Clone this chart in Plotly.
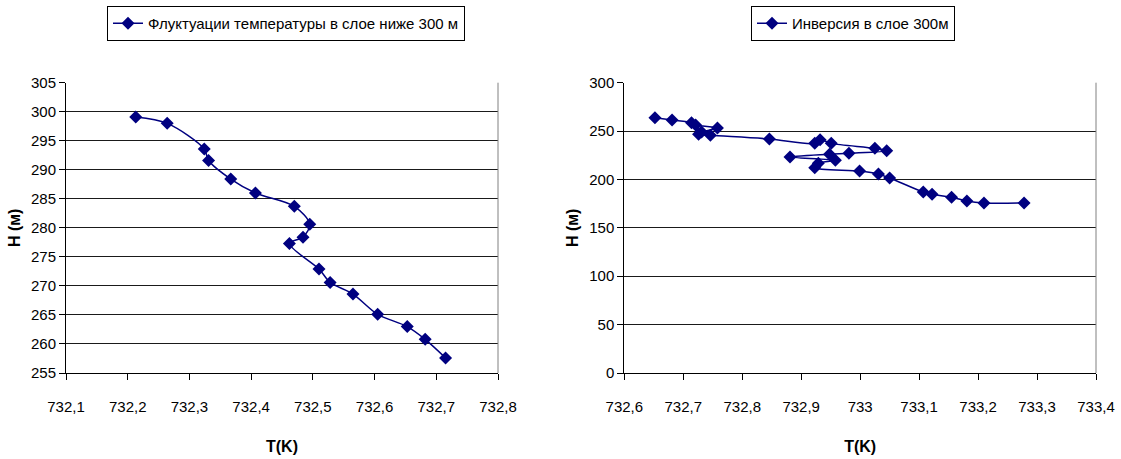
import plotly.graph_objects as go
from plotly.subplots import make_subplots

# Temperature fluctuations in the layer below 300 m
t_fluct = [732.213, 732.264, 732.324, 732.331, 732.367, 732.407, 732.470, 732.495,
           732.484, 732.462, 732.510, 732.528, 732.565, 732.605, 732.653, 732.682, 732.715]
h_fluct = [299.1, 298.0, 293.6, 291.6, 288.4, 286.0, 283.7, 280.6,
           278.4, 277.3, 272.9, 270.6, 268.6, 265.1, 263.0, 260.8, 257.6]

# Inversion in the 300 m layer
t_inv = [732.652, 732.681, 732.714, 732.721, 732.758, 732.731, 732.726, 732.746,
         732.846, 732.923, 732.932, 732.951, 733.025, 733.045, 732.981, 732.948,
         732.881, 732.958, 732.929, 732.923, 732.999, 733.031, 733.050, 733.107,
         733.122, 733.155, 733.181, 733.210, 733.278]
h_inv = [263.8, 261.4, 258.6, 256.3, 253.2, 249.0, 246.6, 245.6,
         241.8, 237.3, 241.1, 237.3, 232.2, 229.7, 227.0, 226.0,
         223.2, 219.8, 216.7, 212.2, 208.7, 205.6, 201.5, 187.0,
         184.7, 181.6, 177.7, 175.7, 175.7]

name_left = "Флуктуации температуры в слое ниже 300 м"
name_right = "Инверсия в слое 300м"

NAVY = "#000080"
FONT = "Liberation Sans Narrow, Arial Narrow, Liberation Sans, Arial, sans-serif"
GRID = "#1a1a1a"

fig = make_subplots(rows=1, cols=2)

fig.add_trace(go.Scatter(
    x=t_fluct, y=h_fluct, name=name_left, mode="lines+markers",
    line=dict(color=NAVY, width=1.5, shape="spline", smoothing=0.9),
    marker=dict(symbol="diamond", size=10, color=NAVY),
    legend="legend"), row=1, col=1)

fig.add_trace(go.Scatter(
    x=t_inv, y=h_inv, name=name_right, mode="lines+markers",
    line=dict(color=NAVY, width=1.5, shape="spline", smoothing=0.9),
    marker=dict(symbol="diamond", size=10, color=NAVY),
    legend="legend2"), row=1, col=2)

y_bottom = (459 - 373) / 459
y_top = (459 - 82.7) / 459

xcommon = dict(dtick=0.1, showgrid=False, showline=True, linecolor="black", linewidth=1,
               ticks="outside", ticklen=6, tickcolor="black", automargin=False,
               tickfont=dict(family=FONT, size=15, color="black"),
               ticklabelstandoff=14, zeroline=False,
               title=dict(text="<b>T(K)</b>", font=dict(family=FONT, size=16, color="black"),
                          standoff=26))
ycommon = dict(showgrid=True, gridcolor=GRID, gridwidth=1, showline=True, linecolor="black",
               linewidth=1, ticks="outside", ticklen=6, tickcolor="black", automargin=False,
               tickfont=dict(family=FONT, size=15, color="black"), zeroline=False,
               title=dict(text="<b>H (м)</b>", font=dict(family=FONT, size=16, color="black"),
                          standoff=6))

fig.update_xaxes(xcommon)
fig.update_yaxes(ycommon)

fig.update_xaxes(range=[732.1, 732.8], tick0=732.1, domain=[66 / 1121, 498 / 1121], row=1, col=1)
fig.update_xaxes(range=[732.6, 733.4], tick0=732.6, domain=[624.3 / 1121, 1096 / 1121], row=1, col=2)
fig.update_yaxes(range=[255, 305], dtick=5, domain=[y_bottom, y_top], row=1, col=1)
fig.update_yaxes(range=[0, 300], dtick=50, domain=[y_bottom, y_top], row=1, col=2)

# grey frame on the right side of each plot area
for xr, yr in (("x domain", "y domain"), ("x2 domain", "y2 domain")):
    fig.add_shape(type="line", xref=xr, yref=yr, x0=1, x1=1, y0=0, y1=1,
                  line=dict(color="#808080", width=1))

legend_style = dict(bgcolor="white", bordercolor="black", borderwidth=1,
                    font=dict(family=FONT, size=15, color="black"),
                    xanchor="left", yanchor="top", itemwidth=30,
                    tracegroupgap=0)

fig.update_layout(
    width=1121, height=459,
    margin=dict(l=0, r=0, t=0, b=0),
    paper_bgcolor="white", plot_bgcolor="white",
    separators=", ",
    showlegend=True,
    legend=dict(x=107 / 1121, y=1 - 6 / 459, **legend_style),
    legend2=dict(x=751 / 1121, y=1 - 6 / 459, **legend_style),
)

fig.write_html("out.html")
